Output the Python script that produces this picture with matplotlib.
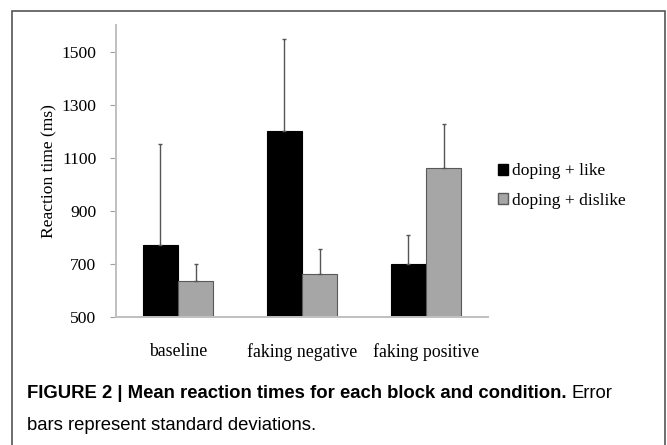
import matplotlib
matplotlib.use('Agg')
import numpy as np
import matplotlib.pyplot as plt
from matplotlib.patches import Patch, Rectangle

# data
blocks = ['baseline', 'faking negative', 'faking positive']
like_mean = [769, 1202, 700]
like_sd = [381, 347, 107]
dislike_mean = [633, 660, 1061]
dislike_sd = [67, 94, 167]
series_names = ['doping + like', 'doping + dislike']
y_ticks = [500, 700, 900, 1100, 1300, 1500]

W, H = 667, 445
fig = plt.figure(figsize=(W / 100, H / 100), dpi=100)

# axes placed in pixel units of the reference
left, right, top, bottom = 116, 488, 25, 316.7
ax = fig.add_axes([left / W, 1 - bottom / H, (right - left) / W, (bottom - top) / H])

serif = 'Liberation Serif'
x = np.arange(len(blocks))
w = 0.286
ax.bar(x - w / 2, like_mean, w, color='black', edgecolor='black', linewidth=0.8,
       yerr=[np.zeros(3), like_sd], ecolor='#555555', capsize=1.5,
       error_kw={'elinewidth': 1.0, 'capthick': 1.0})
ax.bar(x + w / 2, dislike_mean, w, color='#a6a6a6', edgecolor='#595959', linewidth=0.8,
       yerr=[np.zeros(3), dislike_sd], ecolor='#555555', capsize=1.5,
       error_kw={'elinewidth': 1.0, 'capthick': 1.0})

ax.set_xlim(-0.5, 2.5)
ax.set_ylim(500, 1600)
ax.set_yticks(y_ticks)
ax.set_xticks(x)
ax.set_xticklabels(blocks, fontfamily=serif, fontsize=12.8)
for lab in ax.get_yticklabels():
    lab.set_fontfamily(serif)
    lab.set_fontsize(12.6)
ax.tick_params(axis='x', length=0, pad=19)
ax.tick_params(axis='y', length=4, width=0.8, color='#a0a0a0', pad=10)
for s in ['top', 'right']:
    ax.spines[s].set_visible(False)
for s in ['left', 'bottom']:
    ax.spines[s].set_color('#c0c0c0')
    ax.spines[s].set_linewidth(1.4)
ax.set_ylabel('Reaction time (ms)', fontfamily=serif, fontsize=12.6, labelpad=3)

handles = [Patch(facecolor='black', edgecolor='black'),
           Patch(facecolor='#a6a6a6', edgecolor='#595959')]
fig.legend(handles, series_names, loc='center left', bbox_to_anchor=(482 / W, 1 - 186 / H),
           frameon=False, prop={'family': serif, 'size': 12.6},
           handlelength=0.6, handleheight=0.6, handletextpad=0.2, labelspacing=0.75)

# caption
cap_size = 13.3
t1 = fig.text(27 / W, 1 - 393 / H, 'FIGURE 2 | Mean reaction times for each block and condition.',
              fontfamily='Liberation Sans', fontweight='bold', fontsize=cap_size, va='center')
r = fig.canvas.get_renderer()
bb = t1.get_window_extent(renderer=r)
fig.text(bb.x1 / W + 5 / W, 1 - 393 / H, 'Error', fontfamily='Liberation Sans',
         fontsize=cap_size, va='center')
fig.text(27 / W, 1 - 425 / H, 'bars represent standard deviations.',
         fontfamily='Liberation Sans', fontsize=cap_size, va='center')

# outer frame
fig.patches.append(Rectangle((12 / W, -0.05), (665 - 12) / W, 1.05 - 11 / H,
                             transform=fig.transFigure, fill=False,
                             edgecolor='#555555', linewidth=1.2))

fig.savefig('out.png', dpi=100)
